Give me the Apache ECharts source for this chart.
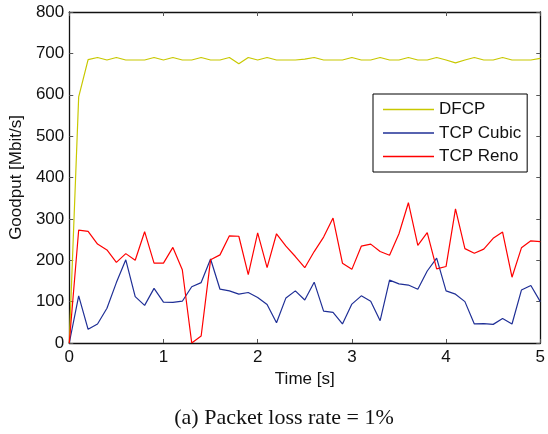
<!DOCTYPE html>
<html>
<head>
<meta charset="utf-8">
<script src="https://cdn.jsdelivr.net/npm/echarts@6/dist/echarts.min.js"></script>
<style>
  html, body { margin: 0; padding: 0; background: #fff; }
  #chart { width: 548px; height: 434px; }
</style>
</head>
<body>
<div id="chart"></div>
<script>
// 时间点 (s)
const times = [
  0, 0.1, 0.2, 0.3, 0.4, 0.5, 0.6, 0.7, 0.8, 0.9,
  1.0, 1.1, 1.2, 1.3, 1.4, 1.5, 1.6, 1.7, 1.8, 1.9,
  2.0, 2.1, 2.2, 2.3, 2.4, 2.5, 2.6, 2.7, 2.8, 2.9,
  3.0, 3.1, 3.2, 3.3, 3.4, 3.5, 3.6, 3.7, 3.8, 3.9,
  4.0, 4.1, 4.2, 4.3, 4.4, 4.5, 4.6, 4.7, 4.8, 4.9,
  5.0
]

const dfcp = [
  0, 595, 685, 690, 684, 690, 684, 684, 684, 690,
  684, 690, 684, 684, 690, 684, 684, 690, 675, 690,
  684, 690, 684, 684, 684, 686, 690, 684, 684, 684,
  690, 684, 684, 690, 684, 684, 690, 684, 684, 690,
  684, 677, 684, 690, 684, 684, 690, 684, 684, 684,
  688
]

const cubic = [
  0, 114, 33, 46, 84, 146, 201, 112, 91, 132,
  99, 98, 101, 136, 146, 203, 130, 126, 118, 122,
  110, 93, 49, 109, 126, 104, 147, 77, 74, 46,
  94, 114, 101, 54, 152, 143, 140, 130, 174, 205,
  126, 118, 100, 46, 47, 45, 59, 46, 128, 139,
  100
]

const reno = [
  0, 273, 270, 239, 225, 195, 216, 200, 269, 193,
  193, 231, 177, 0, 17, 201, 213, 259, 258, 165,
  266, 182, 264, 234, 209, 182, 221, 256, 302, 193,
  178, 234, 239, 221, 212, 264, 339, 236, 267, 179,
  185, 324, 228, 217, 227, 253, 268, 159, 230, 247,
  245
]

const seriesNames = ['DFCP', 'TCP Cubic', 'TCP Reno']
const seriesColors = ['#c8c800', '#1f2f96', '#ff0000']
const caption = '(a) Packet loss rate = 1%'

const pair = (ys) => times.map((t, i) => [t, ys[i]])

const chart = echarts.init(document.getElementById('chart'))

const axisFont = { fontFamily: 'Liberation Sans', fontSize: 17, color: '#111' }
const frameLine = { show: true, onZero: false, lineStyle: { color: '#111', width: 1.3 } }
const insideTick = { show: true, inside: true, length: 4, lineStyle: { color: '#555', width: 1 } }

const option = {
  animation: false,
  backgroundColor: '#fff',
  title: {
    text: caption,
    left: 279,
    textAlign: 'center',
    top: 402,
    textStyle: { fontFamily: 'Liberation Serif', fontSize: 22, fontWeight: 'normal', color: '#111' }
  },
  grid: { left: 69, right: 4, top: 12, bottom: 91 },
  legend: {
    orient: 'vertical',
    left: 373,
    top: 94,
    data: seriesNames,
    icon: 'rect',
    itemWidth: 51,
    itemHeight: 1.3,
    itemGap: 6.5,
    padding: [7, 6, 7, 10],
    borderColor: '#000',
    borderWidth: 1,
    backgroundColor: '#fff',
    textStyle: { fontFamily: 'Liberation Sans', fontSize: 17, color: '#111', lineHeight: 17 }
  },
  xAxis: [
    {
      type: 'value',
      min: 0,
      max: 5,
      interval: 1,
      name: 'Time [s]',
      nameLocation: 'middle',
      nameGap: 28,
      nameTextStyle: axisFont,
      axisLine: frameLine,
      axisTick: insideTick,
      axisLabel: Object.assign({ margin: 6 }, axisFont),
      splitLine: { show: false }
    },
    {
      type: 'value',
      position: 'top',
      min: 0,
      max: 5,
      interval: 1,
      axisLine: frameLine,
      axisTick: insideTick,
      axisLabel: { show: false },
      splitLine: { show: false }
    }
  ],
  yAxis: [
    {
      type: 'value',
      min: 0,
      max: 800,
      interval: 100,
      name: 'Goodput [Mbit/s]',
      nameLocation: 'middle',
      nameGap: 44,
      nameTextStyle: axisFont,
      axisLine: frameLine,
      axisTick: insideTick,
      axisLabel: Object.assign({ margin: 5 }, axisFont),
      splitLine: { show: false }
    },
    {
      type: 'value',
      position: 'right',
      min: 0,
      max: 800,
      interval: 100,
      axisLine: frameLine,
      axisTick: insideTick,
      axisLabel: { show: false },
      splitLine: { show: false }
    }
  ],
  series: [
    {
      name: seriesNames[0],
      type: 'line',
      data: pair(dfcp),
      symbol: 'none',
      color: seriesColors[0],
      lineStyle: { width: 1.2 }
    },
    {
      name: seriesNames[1],
      type: 'line',
      data: pair(cubic),
      symbol: 'none',
      color: seriesColors[1],
      lineStyle: { width: 1.2 }
    },
    {
      name: seriesNames[2],
      type: 'line',
      data: pair(reno),
      symbol: 'none',
      color: seriesColors[2],
      lineStyle: { width: 1.2 }
    }
  ]
}

chart.setOption(option)
</script>
</body>
</html>
